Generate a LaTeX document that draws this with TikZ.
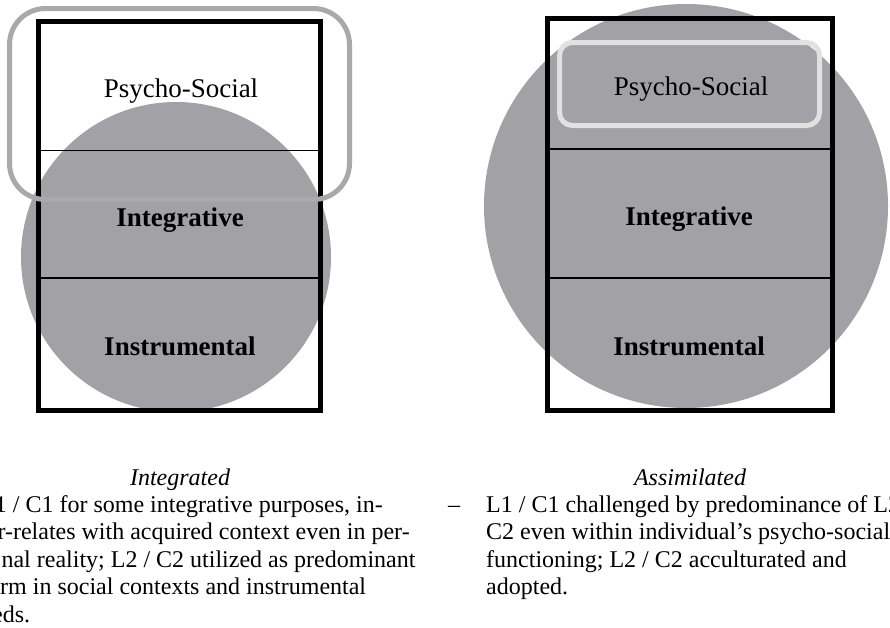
\documentclass[tikz,border=0pt]{standalone}
\usepackage{fontspec}
\setmainfont{Liberation Serif}
\definecolor{circgray}{HTML}{A2A1A6}
\definecolor{ringgray}{HTML}{A9A8AD}
\definecolor{lightring}{HTML}{E1E1E1}
\begin{document}
\begin{tikzpicture}[x=1pt,y=-1pt,
  frame/.style={draw=black,line width=5pt},
  divider/.style={draw=black,line width=1.4pt},
  lbl/.style={anchor=base,inner sep=0pt,font=\fontsize{27}{30}\selectfont},
  blbl/.style={anchor=base,inner sep=0pt,font=\fontsize{27}{30}\selectfont\bfseries},
  body/.style={anchor=base west,inner sep=0pt,font=\fontsize{24}{28}\selectfont},
  capt/.style={anchor=base,inner sep=0pt,font=\fontsize{24}{28}\selectfont\itshape}]
\useasboundingbox (0,0) rectangle (890,627);
\clip (0,0) rectangle (890,627);
% ---------- left diagram ----------
\fill[circgray] (176,257) circle[radius=155pt];
\draw[frame] (38.5,21.5) rectangle (320.5,410.5);
\draw[divider] (41,150.5) -- (318,150.5);
\draw[divider] (41,278) -- (318,278);
\node[lbl]  (lps)  at (181,97)  {Psycho-Social};
\node[blbl] (lint) at (180,226) {Integrative};
\node[blbl] (lins) at (180,355) {Instrumental};
\draw[ringgray,line width=5pt,rounded corners=36pt] (9.5,8.5) rectangle (349.5,199.5);
% ---------- right diagram ----------
\fill[circgray] (686,206) circle[radius=202pt];
\draw[frame] (547.5,18.5) rectangle (832.5,410.5);
\draw[divider] (550,149) -- (830,149);
\draw[divider] (550,278) -- (830,278);
\draw[lightring,line width=5pt,rounded corners=13pt] (559.5,42.5) rectangle (819.5,125.5);
\node[lbl]  (rps)  at (691,95)  {Psycho-Social};
\node[blbl] (rint) at (689,225) {Integrative};
\node[blbl] (rins) at (689,355) {Instrumental};
% ---------- left caption ----------
\node[capt] (lcap) at (180,485) {Integrated};
\node[body] (l1) at (-20,512) {\phantom{L}1 / C1 for some integrative purposes, in-};
\node[body] (l2) at (-20,539.5) {\phantom{te}r-relates with acquired context even in per-};
\node[body] (l3) at (-20,567) {\phantom{so}nal reality; L2 / C2 utilized as predominant};
\node[body] (l4) at (-20,594.5) {\phantom{fo}rm in social contexts and instrumental};
\node[body] (l5) at (-20,622) {\phantom{n}eds.};
% ---------- right caption ----------
\node[capt] (rcap) at (690,485) {Assimilated};
\node[body] (rdash) at (448,512) {–};
\node[body] (r1) at (486,512) {L1 / C1 challenged by predominance of L2};
\node[body] (r2) at (486,539.5) {C2 even within individual’s psycho-social};
\node[body] (r3) at (486,567) {functioning; L2 / C2 acculturated and};
\node[body] (r4) at (486,594.5) {adopted.};
\end{tikzpicture}
\end{document}
